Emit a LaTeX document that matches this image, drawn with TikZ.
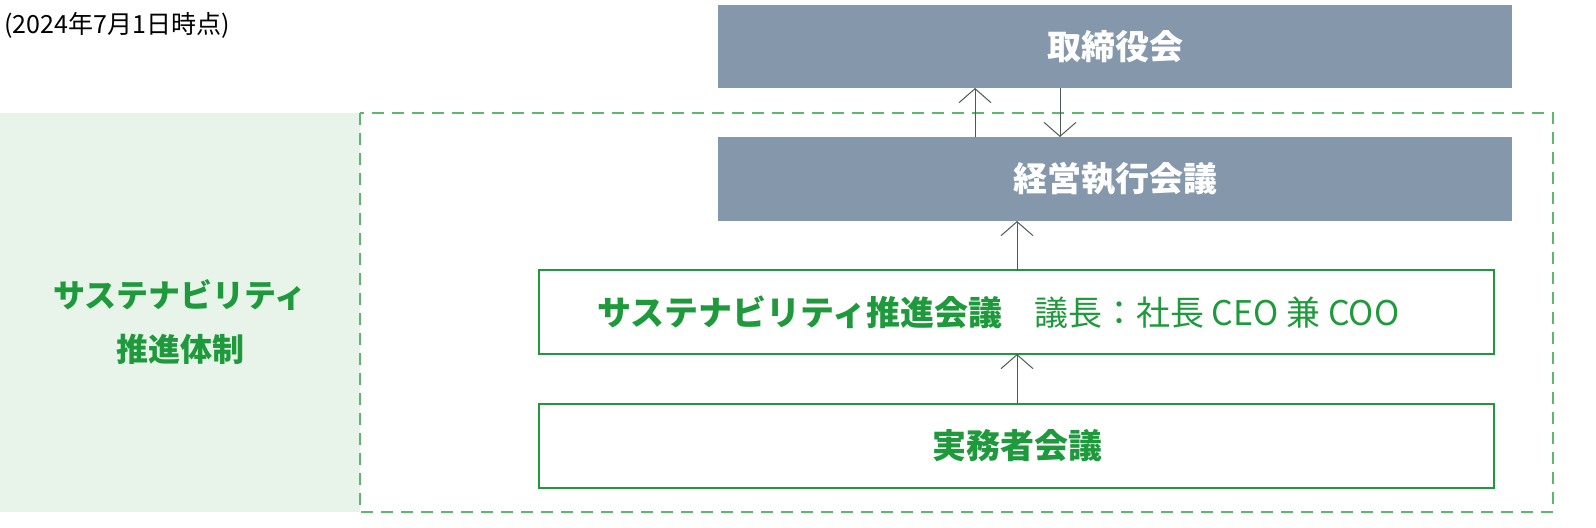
\documentclass[tikz,border=0pt]{standalone}
\usepackage{fontspec}
\setmainfont{Noto Sans CJK JP}
\usetikzlibrary{arrows.meta}
\definecolor{slate}{HTML}{8497AB}
\definecolor{gr}{HTML}{1E9A3C}
\definecolor{grl}{HTML}{5DB86F}
\definecolor{panel}{HTML}{E8F4EA}
\definecolor{arr}{HTML}{4A5A5A}
\begin{document}
\begin{tikzpicture}[x=0.5pt,y=-0.5pt,
 darkbox/.style={fill=slate,draw=none,text=white,font=\fontsize{17}{20}\selectfont\bfseries},
 greenbox/.style={draw=gr,line width=0.6pt,fill=white},
 arw/.style={draw=arr,line width=0.5pt,-{Straight Barb[length=7pt,width=16pt,line width=0.5pt]}}]
\useasboundingbox (0,0) rectangle (1596,527);
\node[anchor=west,inner sep=0pt,font=\fontsize{12.5}{14}\selectfont] (date) at (4,25) {(2024年7月1日時点)};
\fill[panel] (0,113) rectangle (360,512);
\draw[grl,dashed,dash pattern=on 6pt off 4pt,line width=0.6pt] (360,113) rectangle (1553,512);
\node[align=center,text=gr,font=\fontsize{16}{27}\selectfont\bfseries] (sys) at (180,322) {サステナビリティ\\推進体制};
\fill[slate] (718,5) rectangle (1512,88);
\node[darkbox] (bod) at (1115,46.5) {取締役会};
\fill[slate] (718,137) rectangle (1512,221);
\node[darkbox] (exec) at (1115,179) {経営執行会議};
\draw[greenbox] (539,270) rectangle (1494,354);
\node[anchor=west,text=gr,font=\fontsize{17}{20}\selectfont] (sus) at (590,312) {\textbf{サステナビリティ推進会議}\hspace{16pt}議長：社長 CEO 兼 COO};
\draw[greenbox] (539,404) rectangle (1494,488);
\node[text=gr,font=\fontsize{17}{20}\selectfont\bfseries] (wk) at (1017,446) {実務者会議};
\coordinate (a1) at (975,137); \coordinate (a2) at (975,88);
\coordinate (b1) at (1060,88); \coordinate (b2) at (1060,137);
\coordinate (c1) at (1017,270); \coordinate (c2) at (1017,221);
\coordinate (d1) at (1017,404); \coordinate (d2) at (1017,354);
\draw[arw] (a1) -- (a2);
\draw[arw] (b1) -- (b2);
\draw[arw] (c1) -- (c2);
\draw[arw] (d1) -- (d2);
\end{tikzpicture}
\end{document}
